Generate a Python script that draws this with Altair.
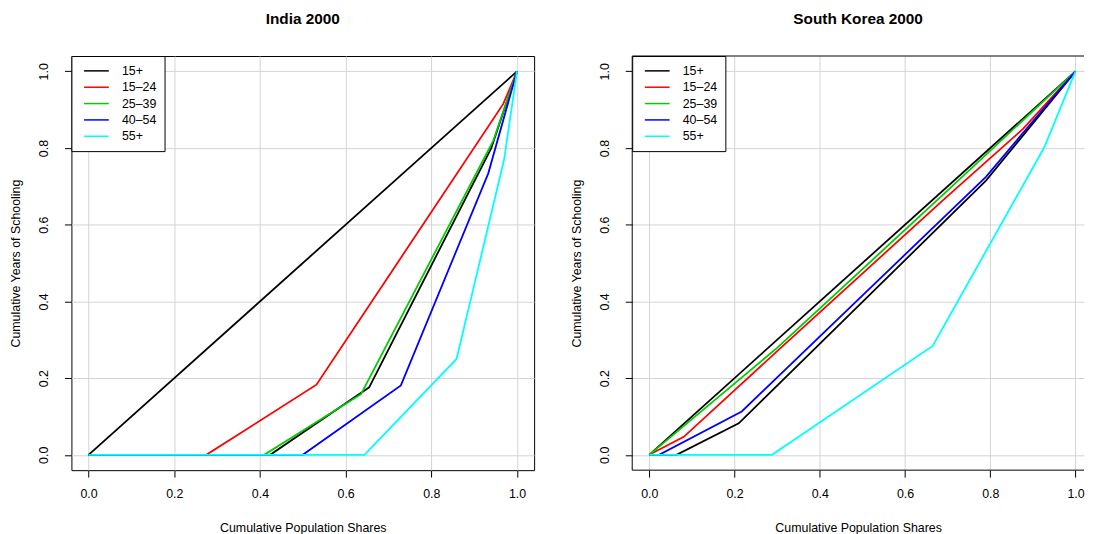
import altair as alt
import pandas as pd

# ---- data ----
groups = ["15+", "15–24", "25–39", "40–54", "55+"]
colors = ["#000000", "#FF0000", "#00CD00", "#0000FF", "#00FFFF"]

# India 2000
ind_15_x = [0.0, 0.424, 0.655, 0.94, 1.0]
ind_15_y = [0.0, 0.0, 0.176, 0.80, 1.0]
ind_1524_x = [0.0, 0.275, 0.532, 0.968, 1.0]
ind_1524_y = [0.0, 0.0, 0.183, 0.915, 1.0]
ind_2539_x = [0.0, 0.41, 0.636, 0.945, 1.0]
ind_2539_y = [0.0, 0.0, 0.158, 0.82, 1.0]
ind_4054_x = [0.0, 0.50, 0.729, 0.933, 1.0]
ind_4054_y = [0.0, 0.0, 0.181, 0.734, 1.0]
ind_55_x = [0.0, 0.644, 0.859, 0.97, 1.0]
ind_55_y = [0.0, 0.0, 0.25, 0.77, 1.0]

# South Korea 2000
kor_15_x = [0.0, 0.064, 0.21, 0.79, 1.0]
kor_15_y = [0.0, 0.0, 0.082, 0.715, 1.0]
kor_1524_x = [0.0, 0.081, 0.295, 0.69, 0.877, 1.0]
kor_1524_y = [0.0, 0.047, 0.265, 0.665, 0.85, 1.0]
kor_2539_x = [0.0, 0.30, 0.69, 1.0]
kor_2539_y = [0.0, 0.279, 0.679, 1.0]
kor_4054_x = [0.0, 0.023, 0.217, 0.79, 0.90, 1.0]
kor_4054_y = [0.0, 0.0, 0.113, 0.725, 0.87, 1.0]
kor_55_x = [0.0, 0.288, 0.665, 0.926, 1.0]
kor_55_y = [0.0, 0.0, 0.284, 0.80, 1.0]

equal_x = [0.0, 1.0]
equal_y = [0.0, 1.0]

tick_vals = [0.0, 0.2, 0.4, 0.6, 0.8, 1.0]


def build(series):
    rows = []
    for g, xs, ys in series:
        for i, (x, y) in enumerate(zip(xs, ys)):
            rows.append({"group": g, "x": x, "y": y, "i": i})
    return pd.DataFrame(rows)


india = build([
    ("15+", ind_15_x, ind_15_y),
    ("15–24", ind_1524_x, ind_1524_y),
    ("25–39", ind_2539_x, ind_2539_y),
    ("40–54", ind_4054_x, ind_4054_y),
    ("55+", ind_55_x, ind_55_y),
])
korea = build([
    ("15+", kor_15_x, kor_15_y),
    ("15–24", kor_1524_x, kor_1524_y),
    ("25–39", kor_2539_x, kor_2539_y),
    ("40–54", kor_4054_x, kor_4054_y),
    ("55+", kor_55_x, kor_55_y),
])
equal = pd.DataFrame({"x": equal_x, "y": equal_y})

FONT = "Liberation Sans"
FS = 12.5
H = 418


def panel(df, title, width, xmax, full_frame):
    xs = alt.Scale(domain=[-0.04, xmax], nice=False, zero=False)
    ys = alt.Scale(domain=[-0.04, 1.04], nice=False, zero=False)
    xax = alt.Axis(values=tick_vals, format=".1f", title="Cumulative Population Shares",
                   tickSize=7, labelPadding=11, titlePadding=21)
    yax = alt.Axis(values=tick_vals, format=".1f", title="Cumulative Years of Schooling",
                   tickSize=7, labelAngle=270, labelAlign="center", labelBaseline="bottom",
                   labelPadding=14, titlePadding=15)
    diag = alt.Chart(equal).mark_line(color="black", strokeWidth=1.8, clip=True).encode(
        x=alt.X("x:Q", scale=xs, axis=xax),
        y=alt.Y("y:Q", scale=ys, axis=yax),
    )
    lines = alt.Chart(df).mark_line(strokeWidth=1.8, clip=True).encode(
        x=alt.X("x:Q", scale=xs, axis=xax),
        y=alt.Y("y:Q", scale=ys, axis=yax),
        color=alt.Color("group:N", scale=alt.Scale(domain=groups, range=colors),
                        legend=alt.Legend(title=None, orient="top-left", offset=0,
                                          symbolType="M-0.36,0H3.64",
                                          symbolSize=156, symbolStrokeWidth=1.5,
                                          labelFontSize=FS, labelFont=FONT,
                                          labelColor="black", labelOffset=29,
                                          strokeColor="black", fillColor="white",
                                          padding=8, rowPadding=2.5)),
        order="i:Q",
    )
    layers = [diag, lines]
    if not full_frame:
        dummy = pd.DataFrame({"a": [0]})
        left = alt.Chart(dummy).mark_rule(color="black", strokeWidth=1).encode(
            x=alt.value(0), y=alt.value(0), y2=alt.value(H))
        top = alt.Chart(dummy).mark_rule(color="black", strokeWidth=1).encode(
            x=alt.value(0), x2=alt.value(width), y=alt.value(0))
        bottom = alt.Chart(dummy).mark_rule(color="black", strokeWidth=1).encode(
            x=alt.value(0), x2=alt.value(width), y=alt.value(H))
        layers += [left, top, bottom]
    return alt.layer(*layers).properties(
        width=width, height=H,
        title=alt.TitleParams(title, fontSize=15.5, fontWeight="bold", font=FONT,
                              anchor="middle", offset=28, color="black"),
    )


left_panel = panel(india, "India 2000", 467, 1.04, True)
right_panel = panel(korea, "South Korea 2000", 456, 1.02, False).properties(
    view=alt.ViewBackground(stroke=None)
)

chart = alt.hconcat(left_panel, right_panel, spacing=36).resolve_scale(
    color="independent"
).resolve_legend(color="independent").properties(
    padding={"left": 1, "top": 1, "right": 0, "bottom": 0},
    background="white",
).configure_view(
    stroke="black", strokeWidth=1
).configure_axis(
    labelFont=FONT, labelFontSize=FS, labelColor="black",
    titleFont=FONT, titleFontSize=FS, titleFontWeight="normal", titleColor="black",
    domain=False, tickColor="black", gridColor="#D3D3D3", gridWidth=1,
)

chart.save("out.html", embed_options={"renderer": "svg", "actions": False})
